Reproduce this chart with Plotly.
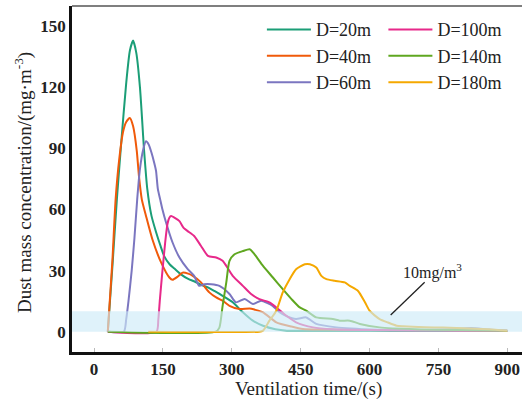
import plotly.graph_objects as go

# Dust mass concentration vs ventilation time at several distances D
t_20 = [30, 40, 50, 60, 70, 78, 85, 92, 100, 109, 116, 125, 135, 145, 153, 165, 175, 190, 204, 220,
        233, 250, 262, 280, 302, 324, 345, 368, 395, 420, 500, 600, 700, 800, 900]
c_20 = [0, 32, 66, 95, 122, 138, 143, 137, 120, 89, 70, 57, 49, 42, 37, 33, 31, 28, 26, 24.5,
        23, 21.5, 20, 17.6, 14.4, 9.5, 5.5, 2.9, 1.2, 0.5, 0.4, 0.4, 0.3, 0.3, 0.3]

t_40 = [30, 40, 47, 55, 63, 70, 78, 85, 93, 98, 104, 113, 127, 146, 164, 171, 182, 193, 205, 215,
        233, 251, 266, 280, 295, 317, 339, 350, 368, 397, 430, 455, 500, 600, 700, 800, 900]
c_40 = [0, 35, 65, 85, 98, 103, 105, 101, 89, 76, 65, 57, 45.4, 34, 26.6, 25.5, 27, 29, 28.5, 27.4,
        24.2, 19.3, 16.8, 15.2, 12.7, 11.1, 11.4, 10.8, 9.5, 4.6, 2.5, 1.3, 1, 0.8, 0.8, 0.7, 0.5]

t_60 = [30, 65, 70, 75, 82, 88, 94, 100, 107, 113, 119, 125, 131, 135, 139, 144, 149, 157, 171, 186,
        204, 218, 229, 240, 255, 273, 295, 309, 328, 346, 364, 389, 404, 420, 440, 462, 484, 528, 560,
        600, 700, 780, 820, 860, 900]
c_60 = [0, 0, 6, 15, 30, 46, 65, 80, 89.4, 93.5, 92, 88, 83, 79, 70, 65, 60, 53.5, 43.8, 36.4,
        30.7, 27.4, 22.5, 23.3, 23.3, 22.5, 18.5, 14.4, 16, 13.6, 15.2, 12.7, 9.5, 7.5, 6.2, 7, 3.8, 2.1, 1.5,
        1, 0.8, 1.2, 1.8, 1, 0.5]

t_100 = [30, 136, 140, 143.5, 149, 155, 160, 164, 168, 175, 186, 195, 204, 218, 233, 248, 266, 280,
         288, 302, 324, 342, 360, 382, 397, 419, 440, 477, 520, 600, 700, 800, 900]
c_100 = [0, 0, 6, 16, 30, 44, 53, 56, 56.8, 56, 54.3, 51, 49.4, 47, 42.1, 37.2, 36.4, 34.8,
         32.3, 27.4, 22.5, 18.5, 16, 14.4, 11.9, 7.8, 4.6, 2.1, 1.2, 0.8, 0.6, 0.5, 0.4]

t_140 = [30, 265, 273, 280, 288, 295, 306, 324, 339, 349.5, 368, 389.5, 411, 430, 448, 462, 484, 520,
         535, 557, 579, 622, 700, 800, 900]
c_140 = [0, 0, 2, 12.7, 24.2, 34.8, 38, 39.6, 40.5, 38, 32.3, 26.6, 20.9, 16, 11.9, 10.3, 7, 6.2,
         5.4, 5.4, 3.8, 2.1, 1.2, 0.8, 0.5]

t_180 = [118, 360, 368, 382, 397, 411, 426, 440, 459, 470, 484, 495, 506, 524, 546, 557, 575, 590,
         600, 611, 622, 640, 659, 673, 720, 760, 820, 860, 900]
c_180 = [0, 0, 0.5, 5.4, 10.3, 19.3, 25.8, 30.7, 33.1, 33.1, 31.5, 27.4, 25.8, 25, 24.2, 22.5, 20, 14.4,
         10.3, 8, 6.2, 4.5, 2.9, 2.6, 2.1, 2, 1.5, 1.2, 0.5]

names = ["D=20m", "D=40m", "D=60m", "D=100m", "D=140m", "D=180m"]
colors = ["#1b9e77", "#f05a0a", "#7b76c0", "#e7298a", "#5fa720", "#f5a800"]
series = [(t_20, c_20), (t_40, c_40), (t_60, c_60), (t_100, c_100), (t_140, c_140), (t_180, c_180)]

x_ticks = [0, 150, 300, 450, 600, 750, 900]
y_ticks = [0, 30, 60, 90, 120, 150]
limit_value = 10

SERIF = "Liberation Serif"
INK = "#222222"

fig = go.Figure()
for i, ((t, c), name, col) in enumerate(zip(series, names, colors)):
    fig.add_trace(go.Scatter(
        x=t, y=c, name=name, mode="lines",
        line=dict(color=col, width=2, shape="spline", smoothing=0.6),
        legend="legend" if i < 3 else "legend2",
    ))

# translucent band marking the 10 mg/m3 limit, laid over the curves
fig.add_shape(type="rect", xref="paper", yref="y", x0=0, x1=1, y0=0, y1=limit_value,
              fillcolor="rgba(206,235,247,0.65)", line_width=0, layer="above")
# top frame line
fig.add_shape(type="line", xref="paper", yref="paper", x0=0, x1=1, y0=1, y1=1,
              line=dict(color="#555555", width=1.5))
# leader line for the limit label
fig.add_shape(type="line", xref="x", yref="y", x0=646, y0=8.2, x1=720, y1=24.3,
              line=dict(color=INK, width=1.3))
fig.add_annotation(x=737, y=29.5, xref="x", yref="y", text="10mg/m<sup>3</sup>",
                   showarrow=False, font=dict(family=SERIF, size=16, color=INK))

# axis titles
fig.add_annotation(x=0.526, y=-0.108, xref="paper", yref="paper", yanchor="middle",
                   text="Ventilation time/(s)", showarrow=False,
                   font=dict(family=SERIF, size=19, color=INK))
fig.add_annotation(x=-0.109, y=0.491, xref="paper", yref="paper",
                   xanchor="center", yanchor="middle", textangle=-90,
                   text="Dust mass concentration/(mg·m<sup>-3</sup>)", showarrow=False,
                   font=dict(family=SERIF, size=19, color=INK))

legend_common = dict(font=dict(family=SERIF, size=18, color=INK),
                     bgcolor="rgba(0,0,0,0)", borderwidth=0, itemwidth=44,
                     xanchor="left", yanchor="top", tracegroupgap=0)
tick_font = dict(family=SERIF, size=17, color=INK, weight="bold")
fig.update_layout(
    width=522, height=405,
    margin=dict(l=72, r=0, t=6, b=53),
    plot_bgcolor="white", paper_bgcolor="white",
    legend=dict(x=0.422, y=0.985, **legend_common),
    legend2=dict(x=0.692, y=0.985, **legend_common),
    xaxis=dict(range=[-48, 932], tickvals=x_ticks, showgrid=False, zeroline=False,
               showline=True, linecolor="#111111", linewidth=2.5,
               ticks="inside", ticklen=4, tickcolor="#bbbbbb", tickwidth=1,
               tickfont=tick_font),
    yaxis=dict(range=[-10, 160], tickvals=y_ticks, showgrid=False, zeroline=False,
               showline=True, linecolor="#111111", linewidth=2.5, ticks="",
               tickfont=tick_font),
)

fig.write_html("out.html")
